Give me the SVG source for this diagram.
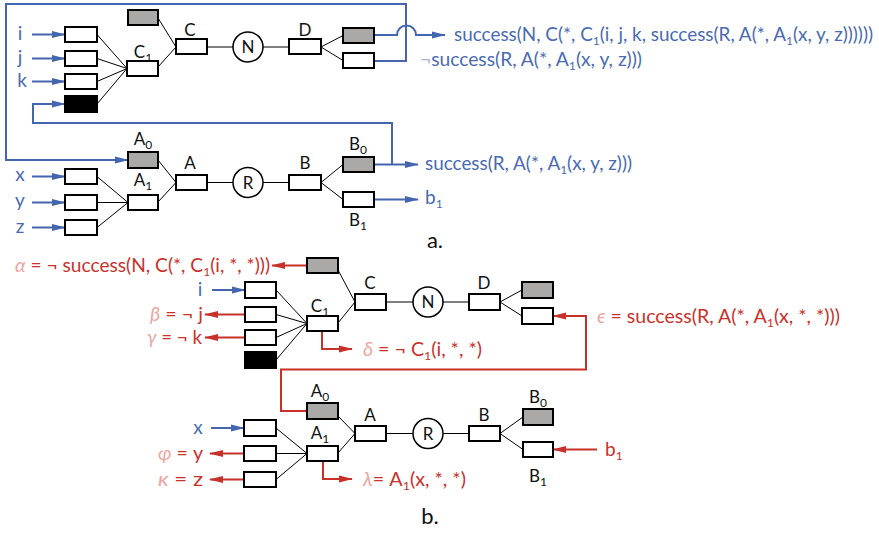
<svg xmlns="http://www.w3.org/2000/svg" width="879" height="534" viewBox="0 0 879 534">
<style>
.bx{fill:#fff;stroke:#000;stroke-width:2}
.gr{fill:#aba8a8;stroke:#000;stroke-width:2}
.bk{fill:#000;stroke:#000;stroke-width:2}
.ci{fill:#fff;stroke:#000;stroke-width:1.5}
.ln{fill:none;stroke:#000;stroke-width:1}
.bl{fill:none;stroke:#4566ae;stroke-width:2}
.rd{fill:none;stroke:#c8302a;stroke-width:2}
.lab{font-family:Lato,"Liberation Sans",sans-serif;font-size:17px;fill:#111;text-anchor:middle}
.bt{font-family:Lato,"Liberation Sans",sans-serif;font-size:19px;fill:#4a6bb2}
.rt{font-family:Lato,"Liberation Sans",sans-serif;font-size:19px;fill:#c8322b}
.gk{fill:#eca5a1;font-style:italic}
.ng{fill:#a9b6d2}
.sub{font-size:12px}
.big{font-family:Lato,"Liberation Sans",sans-serif;font-size:22px;fill:#111;text-anchor:middle}
</style>
<defs>
<marker id="ab" markerWidth="14" markerHeight="8" refX="13" refY="4" orient="auto" markerUnits="userSpaceOnUse"><path d="M0,0.5 L14,4 L0,7.5 Z" fill="#4566ae"/></marker>
<marker id="ar" markerWidth="14" markerHeight="8" refX="13" refY="4" orient="auto" markerUnits="userSpaceOnUse"><path d="M0,0.5 L14,4 L0,7.5 Z" fill="#c8302a"/></marker>
</defs>

<g id="connectors">
<path class="ln" d="M97,34.5 L127,68.5 M97,58.5 L127,68.5 M97,81.5 L127,68.5 M97,104 L127,68.5"/>
<path class="ln" d="M158,18 L176,47 M158,67 L176,47 M207,47 H233 M263,47 H289 M321,47 L343,35.5 M321,47 L343,60.5"/>
<path class="ln" d="M97,176.5 L128,202.5 M97,202.5 H128 M97,227.5 L128,202.5"/>
<path class="ln" d="M158,160 L176,182.5 M158,202 L176,182.5 M207,182.5 H233 M263,182.5 H289 M321,182.5 L343,164.5 M321,182.5 L343,199.5"/>
<path class="bl" marker-end="url(#ab)" d="M32,34.5 H65"/>
<path class="bl" marker-end="url(#ab)" d="M32,58.5 H65"/>
<path class="bl" marker-end="url(#ab)" d="M32,81.5 H65"/>
<path class="bl" marker-end="url(#ab)" d="M32,176.5 H65"/>
<path class="bl" marker-end="url(#ab)" d="M32,202.5 H65"/>
<path class="bl" marker-end="url(#ab)" d="M32,227.5 H65"/>
<path class="bl" marker-end="url(#ab)" d="M374,61 H406 V4 H6 V160 H128"/>
<path class="bl" marker-end="url(#ab)" d="M374,35 H397 A9.5,9.5 0 0 1 416,35 H445"/>
<path class="bl" marker-end="url(#ab)" d="M374,164.5 H418"/>
<path class="bl" marker-end="url(#ab)" d="M392,164.5 V123 H33 V104 H65"/>
<path class="bl" marker-end="url(#ab)" d="M374,199.5 H418"/>
<path class="ln" d="M276,290 L307,323.5 M276,314.5 L307,323.5 M276,337.5 L307,323.5 M276,360 L307,323.5"/>
<path class="ln" d="M338,270 L355,302 M338,323 L355,302 M386,302 H413 M443,302 H469 M500,302 L522,290 M500,302 L522,316"/>
<path class="ln" d="M276,428 L307,453.5 M276,453.5 H307 M276,479.5 L307,453.5"/>
<path class="ln" d="M338,416 L355,433.5 M338,453 L355,433.5 M386,433.5 H413 M443,433.5 H469 M500,433.5 L523,417 M500,433.5 L523,449.5"/>
<path class="bl" marker-end="url(#ab)" d="M212,290 H245"/>
<path class="bl" marker-end="url(#ab)" d="M211,428 H244"/>
<path class="rd" marker-end="url(#ar)" d="M307,265.5 H272"/>
<path class="rd" marker-end="url(#ar)" d="M245,314.5 H205"/>
<path class="rd" marker-end="url(#ar)" d="M245,337.5 H205"/>
<path class="rd" marker-end="url(#ar)" d="M322,331 V349 H352"/>
<path class="rd" marker-end="url(#ar)" d="M307,411 H281 V369.5 H586 V316 H553"/>
<path class="rd" marker-end="url(#ar)" d="M244,453.5 H210"/>
<path class="rd" marker-end="url(#ar)" d="M244,479.5 H210"/>
<path class="rd" marker-end="url(#ar)" d="M323,461 V479 H352"/>
<path class="rd" marker-end="url(#ar)" d="M597,449.5 H553"/>
</g>

<g id="a-in-i"><rect class="bx" x="65" y="27" width="32" height="15"/></g>
<g id="a-in-j"><rect class="bx" x="65" y="51" width="32" height="15"/></g>
<g id="a-in-k"><rect class="bx" x="65" y="74" width="32" height="15"/></g>
<g id="a-in-black"><rect class="bk" x="65" y="96" width="32" height="16"/></g>
<g id="a-C0"><rect class="gr" x="128" y="10" width="30" height="15"/></g>
<g id="a-C1"><rect class="bx" x="127" y="61" width="31" height="15"/><text class="lab" x="143" y="58">C<tspan class="sub" dy="4">1</tspan></text></g>
<g id="a-C"><rect class="bx" x="176" y="39" width="31" height="15"/><text class="lab" x="190" y="36">C</text></g>
<g id="a-N"><circle class="ci" cx="248" cy="47" r="15"/><text class="lab" x="248" y="53">N</text></g>
<g id="a-D"><rect class="bx" x="289" y="39" width="32" height="15"/><text class="lab" x="305" y="36">D</text></g>
<g id="a-D0"><rect class="gr" x="343" y="28" width="31" height="15"/></g>
<g id="a-D1"><rect class="bx" x="343" y="53" width="31" height="15"/></g>

<g id="a-in-x"><rect class="bx" x="65" y="169" width="32" height="15"/></g>
<g id="a-in-y"><rect class="bx" x="65" y="195" width="32" height="15"/></g>
<g id="a-in-z"><rect class="bx" x="65" y="220" width="32" height="15"/></g>
<g id="a-A0"><rect class="gr" x="128" y="152" width="30" height="16"/><text class="lab" x="143" y="145">A<tspan class="sub" dy="4">0</tspan></text></g>
<g id="a-A1"><rect class="bx" x="128" y="195" width="30" height="15"/><text class="lab" x="143" y="186">A<tspan class="sub" dy="4">1</tspan></text></g>
<g id="a-A"><rect class="bx" x="176" y="175" width="31" height="15"/><text class="lab" x="190" y="169">A</text></g>
<g id="a-R"><circle class="ci" cx="248" cy="182.5" r="15"/><text class="lab" x="248" y="188.5">R</text></g>
<g id="a-B"><rect class="bx" x="289" y="175" width="32" height="15"/><text class="lab" x="305" y="169">B</text></g>
<g id="a-B0"><rect class="gr" x="343" y="157" width="31" height="15"/><text class="lab" x="358" y="150">B<tspan class="sub" dy="4">0</tspan></text></g>
<g id="a-B1"><rect class="bx" x="343" y="192" width="31" height="15"/><text class="lab" x="358" y="226">B<tspan class="sub" dy="4">1</tspan></text></g>

<g id="a-texts">
<text class="bt" x="20" y="40" text-anchor="middle">i</text>
<text class="bt" x="20" y="64" text-anchor="middle">j</text>
<text class="bt" x="22" y="87" text-anchor="middle">k</text>
<text class="bt" x="20" y="181" text-anchor="middle">x</text>
<text class="bt" x="20" y="207" text-anchor="middle">y</text>
<text class="bt" x="20" y="233" text-anchor="middle">z</text>
<text class="bt" x="454" y="41" textLength="419" lengthAdjust="spacingAndGlyphs">success(N, C(*, C<tspan class="sub" dy="4">1</tspan><tspan dy="-4">(i, j, k, success(R, A(*, A</tspan><tspan class="sub" dy="4">1</tspan><tspan dy="-4">(x, y, z))))))</tspan></text>
<text class="bt" x="420" y="66" textLength="222" lengthAdjust="spacingAndGlyphs"><tspan class="ng">¬</tspan>success(R, A(*, A<tspan class="sub" dy="4">1</tspan><tspan dy="-4">(x, y, z)))</tspan></text>
<text class="bt" x="425" y="170" textLength="207" lengthAdjust="spacingAndGlyphs">success(R, A(*, A<tspan class="sub" dy="4">1</tspan><tspan dy="-4">(x, y, z)))</tspan></text>
<text class="bt" x="425" y="204">b<tspan class="sub" dy="4">1</tspan></text>
<text class="big" x="435" y="248">a.</text>
</g>

<g id="b-C0"><rect class="gr" x="307" y="258" width="31" height="15"/></g>
<g id="b-in-i"><rect class="bx" x="245" y="282" width="31" height="16"/></g>
<g id="b-in-j"><rect class="bx" x="245" y="307" width="31" height="15"/></g>
<g id="b-in-k"><rect class="bx" x="245" y="330" width="31" height="15"/></g>
<g id="b-in-black"><rect class="bk" x="245" y="352" width="31" height="16"/></g>
<g id="b-C1"><rect class="bx" x="307" y="316" width="31" height="15"/><text class="lab" x="320" y="312">C<tspan class="sub" dy="4">1</tspan></text></g>
<g id="b-C"><rect class="bx" x="355" y="294" width="31" height="16"/><text class="lab" x="370" y="289">C</text></g>
<g id="b-N"><circle class="ci" cx="428" cy="302" r="15"/><text class="lab" x="428" y="308">N</text></g>
<g id="b-D"><rect class="bx" x="469" y="294" width="31" height="16"/><text class="lab" x="484" y="289">D</text></g>
<g id="b-D0"><rect class="gr" x="522" y="282" width="31" height="16"/></g>
<g id="b-D1"><rect class="bx" x="522" y="308" width="31" height="16"/></g>

<g id="b-A0"><rect class="gr" x="307" y="403" width="31" height="16"/><text class="lab" x="320" y="397">A<tspan class="sub" dy="4">0</tspan></text></g>
<g id="b-in-x"><rect class="bx" x="244" y="420" width="32" height="16"/></g>
<g id="b-in-y"><rect class="bx" x="244" y="446" width="32" height="15"/></g>
<g id="b-in-z"><rect class="bx" x="244" y="472" width="32" height="15"/></g>
<g id="b-A1"><rect class="bx" x="307" y="446" width="31" height="15"/><text class="lab" x="320" y="439">A<tspan class="sub" dy="4">1</tspan></text></g>
<g id="b-A"><rect class="bx" x="355" y="426" width="31" height="15"/><text class="lab" x="370" y="421">A</text></g>
<g id="b-R"><circle class="ci" cx="428" cy="433.5" r="15"/><text class="lab" x="428" y="439.5">R</text></g>
<g id="b-B"><rect class="bx" x="469" y="426" width="31" height="15"/><text class="lab" x="484" y="421">B</text></g>
<g id="b-B0"><rect class="gr" x="523" y="409" width="30" height="16"/><text class="lab" x="538" y="403">B<tspan class="sub" dy="4">0</tspan></text></g>
<g id="b-B1"><rect class="bx" x="523" y="442" width="30" height="15"/><text class="lab" x="538" y="482">B<tspan class="sub" dy="4">1</tspan></text></g>

<g id="b-texts">
<text class="rt" x="15" y="272" textLength="255" lengthAdjust="spacingAndGlyphs"><tspan class="gk">α</tspan> = ¬ success(N, C(*, C<tspan class="sub" dy="4">1</tspan><tspan dy="-4">(i, *, *)))</tspan></text>
<text class="bt" x="200" y="296" text-anchor="middle">i</text>
<text class="rt" x="150" y="321" textLength="53" lengthAdjust="spacingAndGlyphs"><tspan class="gk">β</tspan> = ¬ j</text>
<text class="rt" x="147" y="344" textLength="55" lengthAdjust="spacingAndGlyphs"><tspan class="gk">γ</tspan> = ¬ k</text>
<text class="rt" x="363" y="356" textLength="119" lengthAdjust="spacingAndGlyphs"><tspan class="gk">δ</tspan> = ¬ C<tspan class="sub" dy="4">1</tspan><tspan dy="-4">(i, *, *)</tspan></text>
<text class="rt" x="597" y="323" textLength="243" lengthAdjust="spacingAndGlyphs"><tspan class="gk">ϵ</tspan> = success(R, A(*, A<tspan class="sub" dy="4">1</tspan><tspan dy="-4">(x, *, *)))</tspan></text>
<text class="bt" x="198" y="434" text-anchor="middle">x</text>
<text class="rt" x="158" y="460" textLength="45" lengthAdjust="spacingAndGlyphs"><tspan class="gk">φ</tspan> = y</text>
<text class="rt" x="158" y="486" textLength="45" lengthAdjust="spacingAndGlyphs"><tspan class="gk">κ</tspan> = z</text>
<text class="rt" x="363" y="486" textLength="103" lengthAdjust="spacingAndGlyphs"><tspan class="gk">λ</tspan>= A<tspan class="sub" dy="4">1</tspan><tspan dy="-4">(x, *, *)</tspan></text>
<text class="rt" x="605" y="456">b<tspan class="sub" dy="4">1</tspan></text>
<text class="big" x="430" y="524">b.</text>
</g>
</svg>
